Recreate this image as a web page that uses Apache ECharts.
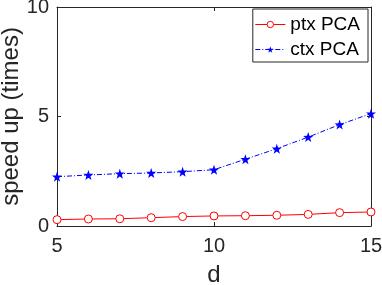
<!DOCTYPE html>
<html><head><meta charset="utf-8">
<script src="https://cdn.jsdelivr.net/npm/echarts@6/dist/echarts.min.js"></script>
<style>html,body{margin:0;padding:0;background:#fff}#c{width:382px;height:285px}</style>
</head><body><div id="c"></div>
<script>
const dValues = [5, 6, 7, 8, 9, 10, 11, 12, 13, 14, 15];
const ptxPCA = [0.29, 0.32, 0.33, 0.38, 0.43, 0.46, 0.47, 0.49, 0.53, 0.61, 0.64];
const ctxPCA = [2.25, 2.33, 2.39, 2.42, 2.48, 2.57, 3.05, 3.53, 4.06, 4.63, 5.13];
const xTicks = [5, 10, 15];
const yTicks = [0, 5, 10];

const font = 'Liberation Sans, Arial, Helvetica, sans-serif';
const axisColor = '#262626';
const chart = echarts.init(document.getElementById('c'), null, {renderer: 'canvas'});
const pair = (xs, ys) => xs.map((x, i) => [x, ys[i]]);
const baseAxis = {
  min: 5, max: 15, interval: 5,
  axisLine: {show: true, onZero: false, lineStyle: {color: axisColor, width: 1}},
  axisTick: {show: true, inside: true, length: 4, lineStyle: {color: axisColor}},
  splitLine: {show: false}
};
chart.setOption({
  animation: false,
  backgroundColor: '#fff',
  grid: {left: 57, right: 11, top: 7, bottom: 59, containLabel: false, outerBoundsMode: 'none'},
  xAxis: [
    Object.assign({}, baseAxis, {
      type: 'value', position: 'bottom',
      min: xTicks[0], max: xTicks[xTicks.length - 1],
      name: 'd', nameLocation: 'middle', nameGap: 37, nameMoveOverlap: false,
      nameTextStyle: {fontFamily: font, fontSize: 24, color: axisColor},
      axisLabel: {fontFamily: font, fontSize: 20, color: axisColor, margin: 10}
    }),
    Object.assign({}, baseAxis, {
      type: 'value', position: 'top',
      min: xTicks[0], max: xTicks[xTicks.length - 1],
      axisLabel: {show: false}
    })
  ],
  yAxis: [
    Object.assign({}, baseAxis, {
      type: 'value', position: 'left',
      min: yTicks[0], max: yTicks[yTicks.length - 1],
      name: 'speed up (times)', nameLocation: 'middle', nameGap: 34, nameMoveOverlap: false,
      nameTextStyle: {fontFamily: font, fontSize: 24, color: axisColor},
      axisLabel: {fontFamily: font, fontSize: 20, color: axisColor, margin: 8}
    }),
    Object.assign({}, baseAxis, {
      type: 'value', position: 'right',
      min: yTicks[0], max: yTicks[yTicks.length - 1],
      axisLabel: {show: false}
    })
  ],
  legend: {
    orient: 'vertical', right: 14, top: 9,
    padding: [6, 8, 3, 2],
    itemGap: 6, itemWidth: 30, itemHeight: 8,
    borderColor: axisColor, borderWidth: 1,
    backgroundColor: '#fff',
    lineStyle: {width: 1},
    itemStyle: {borderWidth: 1},
    textStyle: {fontFamily: font, fontSize: 19, color: '#000'},
    data: ['ptx PCA', 'ctx PCA']
  },
  series: [
    {
      name: 'ptx PCA', type: 'line', xAxisIndex: 0, yAxisIndex: 0,
      data: pair(dValues, ptxPCA),
      symbol: 'circle', symbolSize: 8,
      lineStyle: {color: '#ff0000', width: 1},
      itemStyle: {color: '#ffffff', borderColor: '#ff0000', borderWidth: 1},
      emphasis: {disabled: true}
    },
    {
      name: 'ctx PCA', type: 'line', xAxisIndex: 0, yAxisIndex: 0,
      data: pair(dValues, ctxPCA),
      symbol: 'path://M0,-10 L2.35,-3.24 L9.51,-3.09 L3.8,1.24 L5.88,8.09 L0,4 L-5.88,8.09 L-3.8,1.24 L-9.51,-3.09 L-2.35,-3.24 Z',
      symbolSize: 10,
      lineStyle: {color: '#0000ff', width: 1, type: [5, 2, 1, 2]},
      itemStyle: {color: '#0000ff'},
      emphasis: {disabled: true}
    }
  ]
});
</script></body></html>
